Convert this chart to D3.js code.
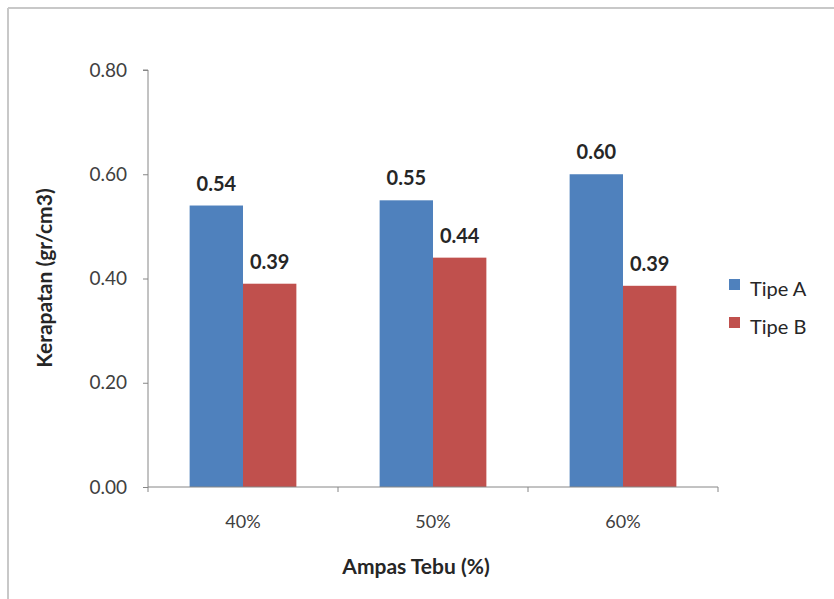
<!DOCTYPE html>
<html><head><meta charset="utf-8">
<script src="https://cdn.jsdelivr.net/npm/d3@7"></script>
<style>body{margin:0;background:#fff}svg{display:block}</style>
</head><body>
<svg id="c" width="834" height="599"></svg>
<script>
const categories = ["40%", "50%", "60%"];
const seriesNames = ["Tipe A", "Tipe B"];
const tipeA = [0.54, 0.55, 0.60];
const tipeB = [0.39, 0.44, 0.386];
const yTicks = [0, 0.2, 0.4, 0.6, 0.8];
const colors = ["#4f81bd", "#c0504d"];

const svg = d3.select("#c");
const font = "Lato, 'Open Sans', sans-serif";
// frame
svg.append("line").attr("x1",8).attr("x2",8).attr("y1",8).attr("y2",599).attr("stroke","#c8c8c8").attr("stroke-width",2);
svg.append("line").attr("x1",8).attr("x2",834).attr("y1",8).attr("y2",8).attr("stroke","#c8c8c8").attr("stroke-width",2);

const m = {l:148, r:718, t:70, b:487};
const x0 = d3.scaleBand().domain(categories).range([m.l, m.r]).paddingInner(0).paddingOuter(0);
const x1 = d3.scaleBand().domain(seriesNames).range([0, x0.bandwidth()]).paddingInner(0).paddingOuter(0.78);
const y = d3.scaleLinear().domain([0, 0.8]).range([m.b, m.t]);

const data = categories.map((c,i)=>({c, vals:[tipeA[i], tipeB[i]]}));

const g = svg.append("g");
const grp = g.selectAll("g.grp").data(data).join("g").attr("transform", d=>`translate(${x0(d.c)},0)`);
grp.selectAll("rect").data(d=>d.vals.map((v,j)=>({v, s:seriesNames[j], j})))
  .join("rect")
  .attr("x", d=>x1(d.s)).attr("width", x1.bandwidth())
  .attr("y", d=>y(d.v)).attr("height", d=>y(0)-y(d.v))
  .attr("fill", d=>colors[d.j]);
grp.selectAll("text").data(d=>d.vals.map((v,j)=>({v, s:seriesNames[j]})))
  .join("text")
  .attr("x", d=>x1(d.s)+x1.bandwidth()/2).attr("y", d=>y(d.v)-15)
  .attr("text-anchor","middle").attr("font-family",font).attr("font-weight","bold")
  .attr("font-size",20).attr("fill","#262626")
  .text(d=>d3.format(".2f")(d.v));

// y axis
const ya = svg.append("g").attr("transform",`translate(${m.l},0)`)
  .call(d3.axisLeft(y).tickValues(yTicks).tickFormat(d3.format(".2f")).tickSize(5).tickPadding(16));
ya.select(".domain").attr("stroke","#868686").attr("d",`M-5,${m.t}H0V${m.b}`);
ya.selectAll(".tick line").attr("stroke","#868686");
ya.selectAll(".tick text").attr("font-family",font).attr("font-size",19).attr("fill","#404040");

// x axis
const xa = svg.append("g").attr("transform",`translate(0,${m.b})`)
  .call(d3.axisBottom(x0).tickSize(0).tickPadding(28));
xa.select(".domain").attr("stroke","#868686").attr("d",`M${m.l},0H${m.r}`);
xa.selectAll(".tick text").attr("font-family",font).attr("font-size",18).attr("fill","#404040");
const bounds = [...categories.map(c=>x0(c)), m.r];
xa.selectAll("line.bt").data(bounds).join("line").attr("class","bt")
  .attr("x1",d=>d).attr("x2",d=>d).attr("y1",0).attr("y2",5).attr("stroke","#868686");

// titles
svg.append("text").attr("x",416).attr("y",574).attr("text-anchor","middle")
  .attr("font-family",font).attr("font-weight","bold").attr("font-size",21).attr("fill","#262626")
  .text("Ampas Tebu (%)");
svg.append("text").attr("transform","translate(52,278) rotate(-90)").attr("text-anchor","middle")
  .attr("font-family",font).attr("font-weight","bold").attr("font-size",21).attr("fill","#262626")
  .text("Kerapatan (gr/cm3)");

// legend
const lg = svg.append("g").attr("transform","translate(729,279)");
const li = lg.selectAll("g").data(seriesNames).join("g").attr("transform",(d,i)=>`translate(0,${i*38})`);
li.append("rect").attr("width",11).attr("height",11).attr("fill",(d,i)=>colors[i]);
li.append("text").attr("x",21).attr("y",17).attr("font-family",font).attr("font-size",20).attr("fill","#262626").text(d=>d);
</script>
</body></html>
